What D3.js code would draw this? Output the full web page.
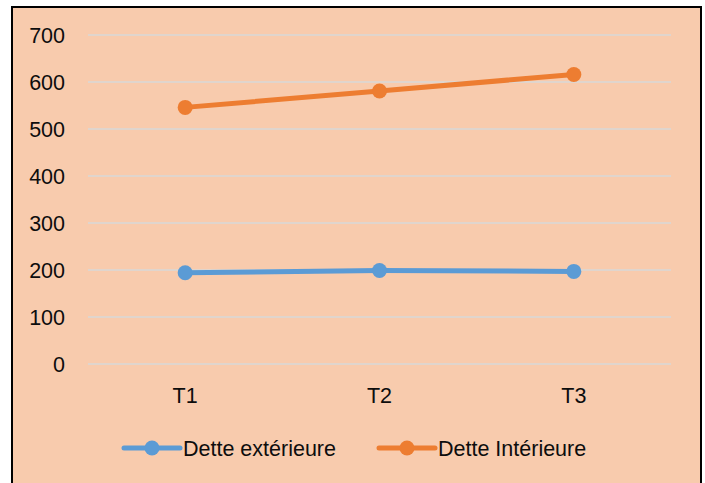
<!DOCTYPE html>
<html>
<head>
<meta charset="utf-8">
<script src="https://cdn.jsdelivr.net/npm/d3@7"></script>
<style>
  html, body { margin: 0; padding: 0; background: #ffffff; }
  svg { display: block; }
  text { font-family: "Liberation Sans", Arial, sans-serif; fill: #0d0d0d; }
</style>
</head>
<body>
<svg id="chart" width="705" height="483"></svg>
<script>
const categories = ["T1", "T2", "T3"];
const seriesNames = ["Dette extérieure", "Dette Intérieure"];
const exterieure = [194, 199, 197];
const interieure = [546, 581, 616];
const yTicks = [0, 100, 200, 300, 400, 500, 600, 700];
const colors = ["#5B9BD5", "#ED7D31"];

const svg = d3.select("#chart");
const FS = 21.5;

// frame
svg.append("rect")
  .attr("x", 12).attr("y", 7)
  .attr("width", 689).attr("height", 490)
  .attr("fill", "#F8CBAD")
  .attr("stroke", "#000").attr("stroke-width", 2);

const plot = { left: 88, right: 671, top: 35, bottom: 364 };

const x = d3.scaleBand().domain(categories).range([plot.left, plot.right]);
const y = d3.scaleLinear().domain([0, 700]).range([plot.bottom, plot.top]);

// gridlines
svg.append("g").selectAll("line").data(yTicks).join("line")
  .attr("x1", plot.left).attr("x2", plot.right)
  .attr("y1", d => y(d)).attr("y2", d => y(d))
  .attr("stroke", "#D9D9D9").attr("stroke-width", 1.5);

// y axis labels
const yAxis = d3.axisLeft(y).tickValues(yTicks).tickSize(0).tickPadding(0);
const gy = svg.append("g").attr("transform", `translate(65,0)`).call(yAxis);
gy.select(".domain").remove();
gy.selectAll("text")
  .attr("font-size", FS).attr("font-family", '"Liberation Sans", Arial, sans-serif')
  .attr("fill", "#0d0d0d").attr("dy", "0.36em");

// x axis labels
const xAxis = d3.axisBottom(x).tickSize(0).tickPadding(0);
const gx = svg.append("g").attr("transform", `translate(0,388)`).call(xAxis);
gx.select(".domain").remove();
gx.selectAll("text")
  .attr("font-size", FS).attr("font-family", '"Liberation Sans", Arial, sans-serif')
  .attr("fill", "#0d0d0d").attr("dy", "0.71em");

// lines
const data = [exterieure, interieure];
const line = d3.line()
  .x((d, i) => x(categories[i]) + x.bandwidth() / 2)
  .y(d => y(d));

data.forEach((vals, s) => {
  svg.append("path")
    .datum(vals)
    .attr("d", line)
    .attr("fill", "none")
    .attr("stroke", colors[s])
    .attr("stroke-width", 5)
    .attr("stroke-linecap", "round");
  svg.append("g").selectAll("circle").data(vals).join("circle")
    .attr("cx", (d, i) => x(categories[i]) + x.bandwidth() / 2)
    .attr("cy", d => y(d))
    .attr("r", 7.5)
    .attr("fill", colors[s]);
});

// legend
const legendY = 448;
const legendItems = [
  { x1: 124, x2: 180, tx: 183 },
  { x1: 379, x2: 435, tx: 438 }
];
legendItems.forEach((it, s) => {
  const g = svg.append("g");
  g.append("line")
    .attr("x1", it.x1).attr("x2", it.x2)
    .attr("y1", legendY).attr("y2", legendY)
    .attr("stroke", colors[s]).attr("stroke-width", 5)
    .attr("stroke-linecap", "round");
  g.append("circle")
    .attr("cx", (it.x1 + it.x2) / 2).attr("cy", legendY)
    .attr("r", 7.5).attr("fill", colors[s]);
  g.append("text")
    .attr("x", it.tx).attr("y", legendY)
    .attr("dy", "0.36em")
    .attr("font-size", FS)
    .text(seriesNames[s]);
});
</script>
</body>
</html>
